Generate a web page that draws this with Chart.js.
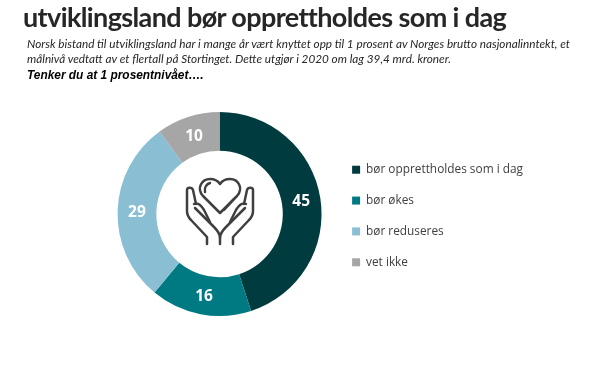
<!DOCTYPE html>
<html><head><meta charset="utf-8">
<script src="https://cdn.jsdelivr.net/npm/chart.js@4"></script>
<style>
html,body{margin:0;padding:0;background:#fff;width:612px;height:370px;overflow:hidden}
#wrap{position:relative;width:612px;height:370px}
canvas{position:absolute;left:0;top:0}
.t{position:absolute;white-space:nowrap}
#title{left:23px;top:0px;font:bold 27px Lato;color:#262626;letter-spacing:-.62px}
.sub{left:27px;font:italic 11.75px Lato;color:#262626}
#q{left:27px;top:68px;font:italic bold 11.9px "Liberation Sans";color:#000}
svg{position:absolute;left:180px;top:172px}
</style></head><body><div id="wrap">
<canvas id="c" width="612" height="370"></canvas>
<div class="t" id="title">utviklingsland bør opprettholdes som i dag</div>
<div class="t sub" style="top:36px">Norsk bistand til utviklingsland har i mange år vært knyttet opp til 1 prosent av Norges brutto nasjonalinntekt, et</div>
<div class="t sub" style="top:51px">målnivå vedtatt av et flertall på Stortinget. Dette utgjør i 2020 om lag 39,4 mrd. kroner.</div>
<div class="t" id="q">Tenker du at 1 prosentnivået….</div>
<svg width="80" height="80" viewBox="0 0 80 80" fill="none" stroke="#404040" stroke-width="2.5" stroke-linecap="round" stroke-linejoin="round">
<path d="M40 41 L23 24 C16 16 22 7 30 7 C34 7 38 9 40 12 C42 9 46 7 50 7 C58 7 64 16 57 24 Z"/>
<path d="M25 20 C24 15 27 12 30 11 M44 38 L54 27"/>
<path d="M27 72 V65 L11 48 C8 45 7 43 7 39 V18 C7 15 12 15 13 18 L16 32 M15 36 L34 55 C38 59 40 62 40 66 V72"/>
<path d="M53 72 V65 L69 48 C72 45 73 43 73 39 V18 C73 15 68 15 67 18 L64 32 M65 36 L46 55 C42 59 40 62 40 66"/>
<path d="M14 32 C18 30 21 33 24 38 L30 50 M66 32 C62 30 59 33 56 38 L50 50"/>
</svg>
</div>
<script>
const categories=["bør opprettholdes som i dag","bør økes","bør reduseres","vet ikke"];
const values=[45,16,29,10];
const colors=["#003B40","#007A82","#8ABFD3","#A6A6A6"];
const labelsPlugin={id:'sliceLabels',afterDatasetsDraw(ch){
 const c=ch.ctx;c.save();c.fillStyle='#fff';c.font='bold 15.5px "Open Sans"';c.textAlign='center';c.textBaseline='middle';
 ch.getDatasetMeta(0).data.forEach((a,i)=>{const p=a.tooltipPosition();c.fillText(String(values[i]),p.x,p.y+1);});
 c.restore();}};
const legendShift={id:'legendShift',afterLayout(ch){ch.legend.top+=2;ch.legend.bottom+=2;}};
new Chart(document.getElementById('c'),{type:'doughnut',
 data:{labels:categories,datasets:[{data:values,backgroundColor:colors,borderWidth:0}]},
 options:{responsive:false,animation:false,cutout:'62%',rotation:0,
  layout:{padding:{left:106,right:79,top:112,bottom:54}},
  plugins:{tooltip:{enabled:false},
   legend:{position:'right',align:'center',labels:{color:'#404040',font:{family:'Open Sans',size:11.85},boxWidth:8,boxHeight:8,padding:19}}}},
 plugins:[labelsPlugin,legendShift]});
</script></body></html>
